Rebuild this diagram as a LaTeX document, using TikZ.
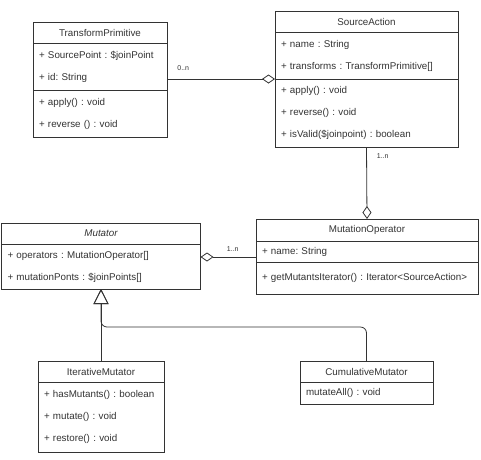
\documentclass[tikz,border=0pt]{standalone}
\usepackage{fontspec}
\setmainfont{Liberation Sans}
\usepackage{tikz}
\usetikzlibrary{arrows.meta,positioning}
\definecolor{umlline}{RGB}{51,51,51}
\definecolor{umltext}{RGB}{51,51,51}
\frenchspacing
\tikzset{
  classhead/.style={rectangle, draw=umlline, line width=0.8pt, fill=white, outer sep=0pt, inner sep=0pt, text=umltext, font=\fontsize{9.8}{11}\selectfont, minimum height=21pt},
  compartment/.style={rectangle, draw=umlline, line width=0.8pt, fill=white, outer sep=0pt, inner xsep=6pt, inner ysep=0pt, text=umltext, align=left, font=\fontsize{9.8}{22}\selectfont, text width=#1},
  mult/.style={text=umltext, font=\fontsize{7}{8}\selectfont, inner sep=1pt},
  line/.style={draw=umlline, line width=0.8pt},
  aggr/.style={line, -{Diamond[open, length=13pt, width=9pt]}},
  inherit/.style={line, -{Triangle[open, length=15pt, width=15pt]}}
}
\begin{document}
\begin{tikzpicture}[x=1pt,y=-1pt]
\useasboundingbox[fill=white] (0,0) rectangle (481,459);
% TransformPrimitive
\node[classhead, minimum width=134pt, anchor=north west] (tpHead) at (33,22) {TransformPrimitive};
\node[compartment=122pt, minimum height=47pt, below=0pt of tpHead] (tpAttr) {+ SourcePoint : \$joinPoint\\+ id: String};
\node[compartment=122pt, minimum height=47pt, below=0pt of tpAttr] (tpOps) {+ apply() : void\\+ reverse () : void};
% SourceAction
\node[classhead, minimum width=183pt, anchor=north west] (saHead) at (275,11) {SourceAction};
\node[compartment=171pt, minimum height=47pt, below=0pt of saHead] (saAttr) {+ name : String\\+ transforms : TransformPrimitive[]};
\node[compartment=171pt, minimum height=68pt, below=0pt of saAttr] (saOps) {+ apply() : void\\+ reverse() : void\\+ isValid(\$joinpoint) : boolean};
% MutationOperator
\node[classhead, minimum width=222pt, minimum height=22pt, anchor=north west] (moHead) at (256,219) {MutationOperator};
\node[compartment=210pt, minimum height=21pt, below=0pt of moHead] (moAttr) {+ name: String};
\node[compartment=210pt, minimum height=32pt, below=0pt of moAttr] (moOps) {+ getMutantsIterator() : Iterator<SourceAction>};
% Mutator
\node[classhead, minimum width=199pt, anchor=north west, font=\fontsize{9.8}{11}\selectfont\itshape] (muHead) at (1.5,223) {Mutator};
\node[compartment=187pt, minimum height=45pt, below=0pt of muHead] (muAttr) {+ operators : MutationOperator[]\\+ mutationPonts : \$joinPoints[]};
% IterativeMutator
\node[classhead, minimum width=126pt, anchor=north west] (imHead) at (38,361) {IterativeMutator};
\node[compartment=114pt, minimum height=70pt, below=0pt of imHead] (imOps) {+ hasMutants() : boolean\\+ mutate() : void\\+ restore() : void};
% CumulativeMutator
\node[classhead, minimum width=133pt, anchor=north west] (cmHead) at (300,361) {CumulativeMutator};
\node[compartment=121pt, minimum height=22pt, below=0pt of cmHead] (cmOps) {mutateAll() : void};

% associations
\draw[aggr] (saAttr.south west -| tpAttr.east) -- (saAttr.south west)
  node[mult, pos=0, anchor=south west, xshift=9pt, yshift=7pt] (mTp) {0..n};
\draw[aggr] (saOps.south) -- (moHead.north)
  node[mult, pos=0, anchor=north west, xshift=9pt, yshift=-5pt] (mSa) {1..n};
\draw[aggr] ([yshift=-5.5pt]moAttr.west) -- ([yshift=-5.5pt]moAttr.west -| muAttr.east)
  node[mult, pos=0, anchor=south east, xshift=-16pt, yshift=4pt] (mMo) {1..n};
% generalisation
\draw[inherit] (imHead.north) -- (muAttr.south);
\draw[inherit, rounded corners=6pt] (cmHead.north) -- ++(0,-34) -| (muAttr.south);
\end{tikzpicture}
\end{document}
